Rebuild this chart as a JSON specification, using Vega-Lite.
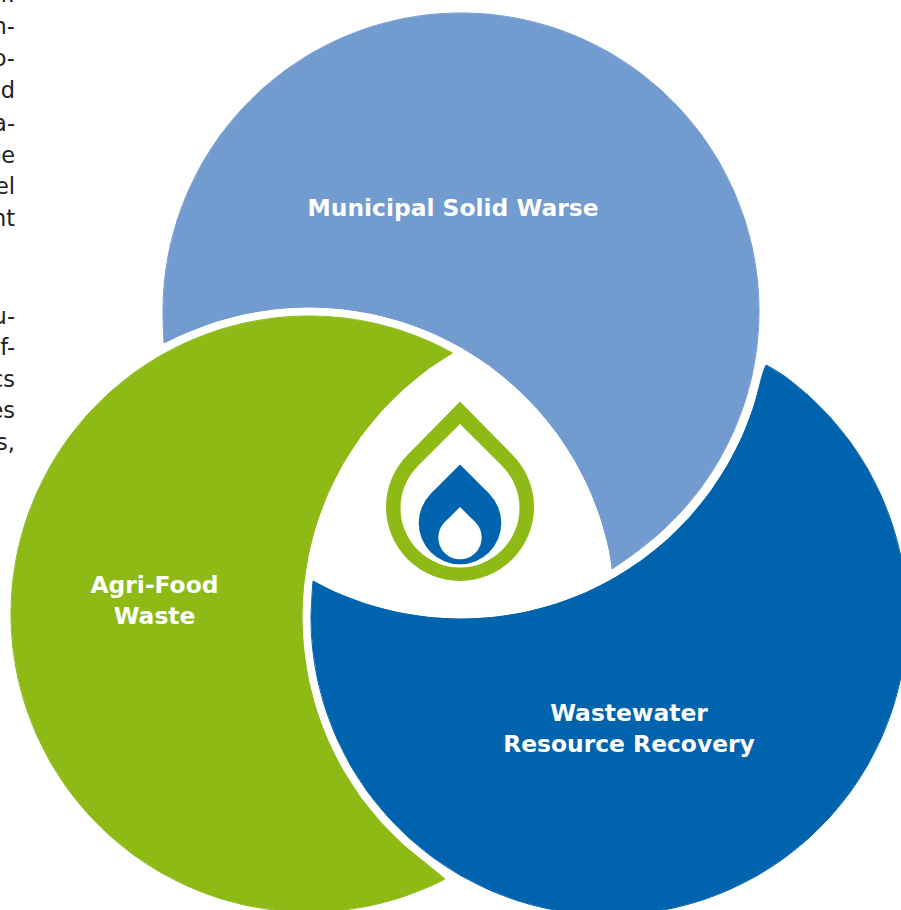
{
  "$schema": "https://vega.github.io/schema/vega-lite/v6.json",
  "width": 901,
  "height": 910,
  "padding": 0,
  "autosize": {"type": "none"},
  "background": "white",
  "view": {"stroke": null},
  "datasets": {
    "municipal": [
      {"edge":"outer","x":164,"y":343},{"edge":"outer","x":163,"y":311},{"edge":"outer","x":164.6,"y":279.9},{"edge":"outer","x":169.5,"y":249},{"edge":"outer","x":177.6,"y":218.9},{"edge":"outer","x":188.8,"y":189.8},{"edge":"outer","x":202.9,"y":162},{"edge":"outer","x":219.9,"y":135.8},{"edge":"outer","x":239.6,"y":111.6},{"edge":"outer","x":261.6,"y":89.6},{"edge":"outer","x":285.8,"y":69.9},{"edge":"outer","x":312,"y":52.9},{"edge":"outer","x":339.8,"y":38.8},{"edge":"outer","x":368.9,"y":27.6},{"edge":"outer","x":399,"y":19.5},{"edge":"outer","x":429.9,"y":14.6},{"edge":"outer","x":461,"y":13},{"edge":"outer","x":492.1,"y":14.6},{"edge":"outer","x":523,"y":19.5},{"edge":"outer","x":553.1,"y":27.6},{"edge":"outer","x":582.2,"y":38.8},{"edge":"outer","x":610,"y":52.9},{"edge":"outer","x":636.2,"y":69.9},{"edge":"outer","x":660.4,"y":89.6},{"edge":"outer","x":682.4,"y":111.6},{"edge":"outer","x":702.1,"y":135.8},{"edge":"outer","x":719.1,"y":162},{"edge":"outer","x":733.2,"y":189.8},{"edge":"outer","x":744.4,"y":218.9},{"edge":"outer","x":752.5,"y":249},{"edge":"outer","x":757.4,"y":279.9},{"edge":"outer","x":759,"y":311},{"edge":"outer","x":757.4,"y":342.1},{"edge":"outer","x":752.5,"y":373},{"edge":"outer","x":744.4,"y":403.1},{"edge":"outer","x":733.2,"y":432.2},{"edge":"outer","x":719.1,"y":460},{"edge":"outer","x":702.1,"y":486.2},{"edge":"outer","x":682.4,"y":510.4},{"edge":"outer","x":660.4,"y":532.4},{"edge":"outer","x":636.2,"y":552.1},{"edge":"outer","x":612,"y":569},
      {"edge":"inner","x":612,"y":569},{"edge":"inner","x":609.3,"y":550.2},{"edge":"inner","x":601,"y":519.1},{"edge":"inner","x":589.5,"y":489.1},{"edge":"inner","x":574.9,"y":460.5},{"edge":"inner","x":557.4,"y":433.5},{"edge":"inner","x":537.1,"y":408.6},{"edge":"inner","x":514.4,"y":385.9},{"edge":"inner","x":489.5,"y":365.6},{"edge":"inner","x":462.5,"y":348.1},{"edge":"inner","x":433.9,"y":333.5},{"edge":"inner","x":403.9,"y":322},{"edge":"inner","x":372.8,"y":313.7},{"edge":"inner","x":341.1,"y":308.7},{"edge":"inner","x":309,"y":307},{"edge":"inner","x":276.9,"y":308.7},{"edge":"inner","x":245.2,"y":313.7},{"edge":"inner","x":214.1,"y":322},{"edge":"inner","x":184.1,"y":333.5},{"edge":"inner","x":164,"y":343}
    ],
    "agrifood": [
      {"edge":"outer","x":445,"y":879},{"edge":"outer","x":430.2,"y":886.2},{"edge":"outer","x":401.1,"y":897.4},{"edge":"outer","x":371,"y":905.5},{"edge":"outer","x":340.1,"y":910.4},{"edge":"outer","x":309,"y":912},{"edge":"outer","x":277.9,"y":910.4},{"edge":"outer","x":247,"y":905.5},{"edge":"outer","x":216.9,"y":897.4},{"edge":"outer","x":187.8,"y":886.2},{"edge":"outer","x":160,"y":872.1},{"edge":"outer","x":133.8,"y":855.1},{"edge":"outer","x":109.6,"y":835.4},{"edge":"outer","x":87.6,"y":813.4},{"edge":"outer","x":67.9,"y":789.2},{"edge":"outer","x":50.9,"y":763},{"edge":"outer","x":36.8,"y":735.2},{"edge":"outer","x":25.6,"y":706.1},{"edge":"outer","x":17.5,"y":676},{"edge":"outer","x":12.6,"y":645.1},{"edge":"outer","x":11,"y":614},{"edge":"outer","x":12.6,"y":582.9},{"edge":"outer","x":17.5,"y":552},{"edge":"outer","x":25.6,"y":521.9},{"edge":"outer","x":36.8,"y":492.8},{"edge":"outer","x":50.9,"y":465},{"edge":"outer","x":67.9,"y":438.8},{"edge":"outer","x":87.6,"y":414.6},{"edge":"outer","x":109.6,"y":392.6},{"edge":"outer","x":133.8,"y":372.9},{"edge":"outer","x":160,"y":355.9},{"edge":"outer","x":187.8,"y":341.8},{"edge":"outer","x":216.9,"y":330.6},{"edge":"outer","x":247,"y":322.5},{"edge":"outer","x":277.9,"y":317.6},{"edge":"outer","x":309,"y":316},{"edge":"outer","x":340.1,"y":317.6},{"edge":"outer","x":371,"y":322.5},{"edge":"outer","x":401.1,"y":330.6},{"edge":"outer","x":430.2,"y":341.8},{"edge":"outer","x":452.5,"y":353},
      {"edge":"inner","x":452.5,"y":353},{"edge":"inner","x":428.5,"y":368.6},{"edge":"inner","x":403.6,"y":388.9},{"edge":"inner","x":380.9,"y":411.6},{"edge":"inner","x":360.6,"y":436.5},{"edge":"inner","x":343.1,"y":463.5},{"edge":"inner","x":328.5,"y":492.1},{"edge":"inner","x":317,"y":522.1},{"edge":"inner","x":308.7,"y":553.2},{"edge":"inner","x":303.7,"y":584.9},{"edge":"inner","x":302,"y":617},{"edge":"inner","x":303.7,"y":649.1},{"edge":"inner","x":308.7,"y":680.8},{"edge":"inner","x":317,"y":711.9},{"edge":"inner","x":328.5,"y":741.9},{"edge":"inner","x":343.1,"y":770.5},{"edge":"inner","x":360.6,"y":797.5},{"edge":"inner","x":380.9,"y":822.4},{"edge":"inner","x":403.6,"y":845.1},{"edge":"inner","x":428.5,"y":865.4},{"edge":"inner","x":445,"y":879}
    ],
    "wastewater": [
      {"edge":"outer","x":766,"y":365},{"edge":"outer","x":784.2,"y":375.9},{"edge":"outer","x":808.4,"y":395.6},{"edge":"outer","x":830.4,"y":417.6},{"edge":"outer","x":850.1,"y":441.8},{"edge":"outer","x":867.1,"y":468},{"edge":"outer","x":881.2,"y":495.8},{"edge":"outer","x":892.4,"y":524.9},{"edge":"outer","x":900.5,"y":555},{"edge":"outer","x":905.4,"y":585.9},{"edge":"outer","x":907,"y":617},{"edge":"outer","x":905.4,"y":648.1},{"edge":"outer","x":900.5,"y":679},{"edge":"outer","x":892.4,"y":709.1},{"edge":"outer","x":881.2,"y":738.2},{"edge":"outer","x":867.1,"y":766},{"edge":"outer","x":850.1,"y":792.2},{"edge":"outer","x":830.4,"y":816.4},{"edge":"outer","x":808.4,"y":838.4},{"edge":"outer","x":784.2,"y":858.1},{"edge":"outer","x":758,"y":875.1},{"edge":"outer","x":730.2,"y":889.2},{"edge":"outer","x":701.1,"y":900.4},{"edge":"outer","x":671,"y":908.5},{"edge":"outer","x":640.1,"y":913.4},{"edge":"outer","x":609,"y":915},{"edge":"outer","x":577.9,"y":913.4},{"edge":"outer","x":547,"y":908.5},{"edge":"outer","x":516.9,"y":900.4},{"edge":"outer","x":487.8,"y":889.2},{"edge":"outer","x":460,"y":875.1},{"edge":"outer","x":433.8,"y":858.1},{"edge":"outer","x":409.6,"y":838.4},{"edge":"outer","x":387.6,"y":816.4},{"edge":"outer","x":367.9,"y":792.2},{"edge":"outer","x":350.9,"y":766},{"edge":"outer","x":336.8,"y":738.2},{"edge":"outer","x":325.6,"y":709.1},{"edge":"outer","x":317.5,"y":679},{"edge":"outer","x":312.6,"y":648.1},{"edge":"outer","x":311,"y":617},{"edge":"outer","x":313,"y":581},
      {"edge":"inner","x":313,"y":581},{"edge":"inner","x":335.7,"y":592.4},{"edge":"inner","x":365.8,"y":603.9},{"edge":"inner","x":397,"y":612.3},{"edge":"inner","x":428.8,"y":617.3},{"edge":"inner","x":461,"y":619},{"edge":"inner","x":493.2,"y":617.3},{"edge":"inner","x":525,"y":612.3},{"edge":"inner","x":556.2,"y":603.9},{"edge":"inner","x":586.3,"y":592.4},{"edge":"inner","x":615,"y":577.7},{"edge":"inner","x":642,"y":560.2},{"edge":"inner","x":667.1,"y":539.9},{"edge":"inner","x":689.9,"y":517.1},{"edge":"inner","x":710.2,"y":492},{"edge":"inner","x":727.7,"y":465},{"edge":"inner","x":742.4,"y":436.3},{"edge":"inner","x":753.9,"y":406.2},{"edge":"inner","x":762.3,"y":375},{"edge":"inner","x":766,"y":365}
    ],
    "dropOuterTip": [{"x":460,"y":401.5},{"x":512.3,"y":454.7},{"x":460,"y":507},{"x":407.7,"y":454.7}],
    "dropOuterBody": [{"x":460,"y":507}],
    "dropInnerTip": [{"x":460,"y":423.9},{"x":502.1,"y":465.9},{"x":460,"y":508},{"x":417.9,"y":465.9}],
    "dropInnerBody": [{"x":460,"y":508}],
    "dropBlueTip": [{"x":460,"y":464.6},{"x":489.2,"y":493.8},{"x":460,"y":523},{"x":430.8,"y":493.8}],
    "dropBlueBody": [{"x":460,"y":523}],
    "dropCoreTip": [{"x":460,"y":506.9},{"x":475.3,"y":522.3},{"x":460,"y":537.6},{"x":444.7,"y":522.3}],
    "dropCoreBody": [{"x":460,"y":537.6}],
    "labels": [
      {"x":453,"y":216,"text":"Municipal Solid Warse"},
      {"x":154.5,"y":593,"text":"Agri-Food"},
      {"x":154.5,"y":624,"text":"Waste"},
      {"x":629,"y":721,"text":"Wastewater"},
      {"x":629,"y":752,"text":"Resource Recovery"}
    ],
    "bodyText": [
      {"x":15,"y":2,"text":"or."},
      {"x":15,"y":34,"text":"on-"},
      {"x":15,"y":66,"text":"po-"},
      {"x":15,"y":98,"text":"and"},
      {"x":15,"y":131,"text":"ca-"},
      {"x":15,"y":163,"text":"be"},
      {"x":15,"y":194,"text":"el"},
      {"x":15,"y":226,"text":"nt"},
      {"x":15,"y":324,"text":"nu-"},
      {"x":15,"y":355,"text":"of-"},
      {"x":15,"y":387,"text":"ics"},
      {"x":15,"y":418,"text":"es"},
      {"x":15,"y":450,"text":"ns,"}
    ]
  },
  "encoding": {
    "x": {"field": "x", "type": "quantitative", "axis": null, "scale": {"domain": [0, 901], "nice": false, "zero": false}},
    "y": {"field": "y", "type": "quantitative", "axis": null, "scale": {"domain": [910, 0], "nice": false, "zero": false}}
  },
  "layer": [
    {"data": {"name": "municipal"}, "mark": {"type": "line", "interpolate": "linear-closed", "fill": "#729bcf", "strokeWidth": 0, "clip": true}, "encoding": {"order": {"value": null}}},
    {"data": {"name": "municipal"}, "mark": {"type": "line", "interpolate": "cardinal", "stroke": "#729bcf", "strokeWidth": 1, "clip": true}, "encoding": {"order": {"value": null}, "detail": {"field": "edge"}}},
    {"data": {"name": "agrifood"}, "mark": {"type": "line", "interpolate": "linear-closed", "fill": "#8dba15", "strokeWidth": 0, "clip": true}, "encoding": {"order": {"value": null}}},
    {"data": {"name": "agrifood"}, "mark": {"type": "line", "interpolate": "cardinal", "stroke": "#8dba15", "strokeWidth": 1, "clip": true}, "encoding": {"order": {"value": null}, "detail": {"field": "edge"}}},
    {"data": {"name": "wastewater"}, "mark": {"type": "line", "interpolate": "linear-closed", "fill": "#0063ad", "strokeWidth": 0, "clip": true}, "encoding": {"order": {"value": null}}},
    {"data": {"name": "wastewater"}, "mark": {"type": "line", "interpolate": "cardinal", "stroke": "#0063ad", "strokeWidth": 1, "clip": true}, "encoding": {"order": {"value": null}, "detail": {"field": "edge"}}},

    {"data": {"name": "dropOuterTip"}, "mark": {"type": "line", "interpolate": "linear-closed", "fill": "#8dba15", "strokeWidth": 0}, "encoding": {"order": {"value": null}}},
    {"data": {"name": "dropOuterBody"}, "mark": {"type": "circle", "size": 21904, "color": "#8dba15", "opacity": 1}},
    {"data": {"name": "dropInnerTip"}, "mark": {"type": "line", "interpolate": "linear-closed", "fill": "white", "strokeWidth": 0}, "encoding": {"order": {"value": null}}},
    {"data": {"name": "dropInnerBody"}, "mark": {"type": "circle", "size": 14161, "color": "white", "opacity": 1}},
    {"data": {"name": "dropBlueTip"}, "mark": {"type": "line", "interpolate": "linear-closed", "fill": "#0063ad", "strokeWidth": 0}, "encoding": {"order": {"value": null}}},
    {"data": {"name": "dropBlueBody"}, "mark": {"type": "circle", "size": 6823, "color": "#0063ad", "opacity": 1}},
    {"data": {"name": "dropCoreTip"}, "mark": {"type": "line", "interpolate": "linear-closed", "fill": "white", "strokeWidth": 0}, "encoding": {"order": {"value": null}}},
    {"data": {"name": "dropCoreBody"}, "mark": {"type": "circle", "size": 1884, "color": "white", "opacity": 1}},

    {"data": {"name": "labels"}, "mark": {"type": "text", "font": "DejaVu Sans", "fontWeight": "bold", "fontSize": 23.4, "color": "white", "align": "center", "baseline": "alphabetic"}, "encoding": {"text": {"field": "text"}}},
    {"data": {"name": "bodyText"}, "mark": {"type": "text", "font": "DejaVu Sans", "fontSize": 22.5, "color": "#222222", "align": "right", "baseline": "alphabetic", "clip": true}, "encoding": {"text": {"field": "text"}}}
  ]
}
